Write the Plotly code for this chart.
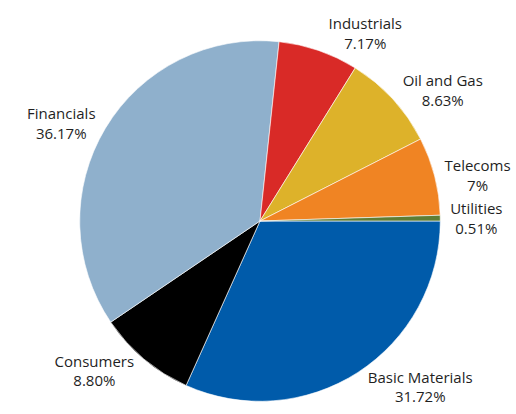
import plotly.graph_objects as go

sectors = ["Basic Materials", "Consumers", "Financials", "Industrials", "Oil and Gas", "Telecoms", "Utilities"]
shares = [31.72, 8.80, 36.17, 7.17, 8.63, 7.00, 0.51]
share_labels = ["31.72%", "8.80%", "36.17%", "7.17%", "8.63%", "7%", "0.51%"]
colors = ["#005BAA", "#000000", "#8FB0CC", "#D92A27", "#DDB22A", "#F08423", "#5E7D34"]

fig = go.Figure(go.Pie(
    labels=sectors,
    values=shares,
    text=share_labels,
    texttemplate="%{label}<br>%{text}",
    textposition="outside",
    textfont=dict(family="Open Sans", size=15, color="#1f1f1f"),
    marker=dict(colors=colors, line=dict(color="white", width=0.6)),
    sort=False,
    direction="clockwise",
    rotation=90,
    showlegend=False,
    domain=dict(x=[80/516, 442/516], y=[12/414, 374/414]),
    hoverinfo="skip",
))
fig.update_layout(
    width=516, height=414,
    margin=dict(l=0, r=0, t=0, b=0),
    paper_bgcolor="white",
    plot_bgcolor="white",
)
fig.write_html("out.html")
